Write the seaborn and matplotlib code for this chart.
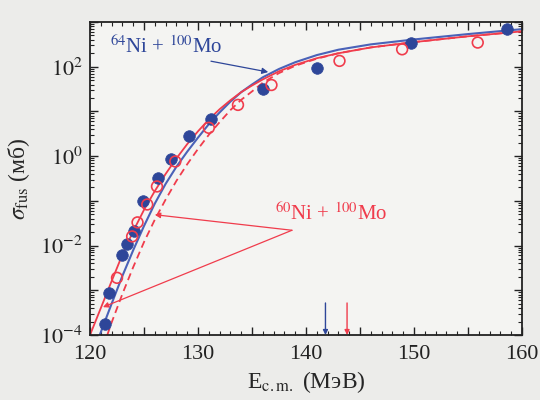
import numpy as np
import pandas as pd
import matplotlib
matplotlib.use('Agg')
import matplotlib.pyplot as plt
import matplotlib.ticker as mticker
import seaborn as sns

# measured points (E in MeV, sigma in mb)
e_ni64 = [121.4, 121.8, 123.0, 123.4, 124.1, 124.9, 126.3, 127.5, 129.2, 131.2, 136.0, 141.0, 149.7, 158.6]
s_ni64 = [1.8e-4, 8.5e-4, 6.3e-3, 1.1e-2, 2.1e-2, 0.10, 0.32, 0.85, 2.75, 6.8, 31, 93, 347, 690]

e_ni60 = [122.5, 123.9, 124.4, 125.3, 126.2, 127.9, 131.0, 133.7, 136.8, 143.1, 148.9, 155.9]
s_ni60 = [1.9e-3, 1.6e-2, 3.3e-2, 8.3e-2, 0.21, 0.76, 4.3, 14, 39, 135, 245, 347]

# calculated curves
e_fit64 = [120.9, 122, 123, 124, 125, 126, 127, 128, 129, 130, 131, 132, 133, 134, 135, 136, 137.5, 139, 141, 143, 146, 150, 155, 160]
s_fit64 = [1.0e-4, 5.0e-4, 2.1e-3, 7.9e-3, 2.75e-2, 8.7e-2, 0.24, 0.58, 1.26, 2.6, 5.2, 9.5, 16.6, 27, 40, 58, 89, 126, 182, 240, 316, 407, 537, 692]

e_fit60 = [120.0, 121, 122, 123, 124, 125, 126, 127, 128, 129, 130, 131, 132, 133, 134, 135, 136, 137.5, 139, 141, 143, 146, 150, 155, 160]
s_fit60 = [1.0e-4, 4.0e-4, 1.6e-3, 6.3e-3, 2.1e-2, 6.3e-2, 0.166, 0.40, 0.89, 1.86, 3.6, 6.6, 11.2, 17.8, 27, 38, 52, 79, 110, 155, 200, 270, 355, 479, 617]

e_fit60b = [121.6, 122, 123, 124, 125, 126, 127, 128, 129, 130, 131, 132, 133, 134, 135, 136, 137.5, 139, 141, 143, 146, 150, 155, 160]
s_fit60b = [1.0e-4, 1.9e-4, 8.3e-4, 3.3e-3, 1.2e-2, 3.8e-2, 0.107, 0.28, 0.66, 1.45, 3.0, 5.75, 10.7, 18.2, 28, 44, 72, 105, 151, 200, 270, 355, 479, 617]

# barrier positions
e_barrier = [141.8, 143.8]

blue = '#2e4699'
red = '#f03c4c'

sns.set_style('ticks')
plt.rcParams['font.family'] = ['Liberation Serif', 'DejaVu Serif']
plt.rcParams['mathtext.fontset'] = 'stix'

fig = plt.figure(figsize=(5.4, 4), dpi=100, facecolor='#ececea')
ax = fig.add_axes([0.1667, 0.1625, 0.8, 0.7825])
ax.set_facecolor('#f4f4f2')

sns.lineplot(x=e_fit64, y=s_fit64, ax=ax, color='#4a62b8', lw=1.5)
sns.lineplot(x=e_fit60, y=s_fit60, ax=ax, color=red, lw=1.3)
sns.lineplot(x=e_fit60b, y=s_fit60b, ax=ax, color=red, lw=1.3)
ax.lines[-1].set_dashes((4, 2.5))

sns.scatterplot(x=e_ni64, y=s_ni64, ax=ax, color=blue, s=70, edgecolor=blue, linewidth=0.5, zorder=5)
sns.scatterplot(x=e_ni60, y=s_ni60, ax=ax, facecolor='none', edgecolor=red, s=60, linewidth=1.2, zorder=5)

ax.set_yscale('log')
ax.set_xlim(120, 160)
ax.set_ylim(1e-4, 1e3)

ax.xaxis.set_major_locator(mticker.MultipleLocator(5))
ax.xaxis.set_minor_locator(mticker.MultipleLocator(1))
ax.xaxis.set_major_formatter(mticker.FuncFormatter(lambda v, p: f'{v:.0f}' if v % 10 == 0 else ''))
ax.yaxis.set_major_locator(mticker.LogLocator(base=10, numticks=20))
ax.yaxis.set_minor_locator(mticker.LogLocator(base=10, subs=np.arange(2, 10), numticks=20))


def ylab(v, p):
    n = int(round(np.log10(v)))
    return f'$10^{{{n}}}$' if n % 2 == 0 else ''


ax.yaxis.set_major_formatter(mticker.FuncFormatter(ylab))
ax.yaxis.set_minor_formatter(mticker.NullFormatter())
ax.tick_params(which='both', direction='in', top=True, right=True, colors='#222222', labelsize=16)
ax.tick_params(which='major', length=6, width=1.0)
ax.tick_params(which='minor', length=3, width=0.8)
ax.tick_params(axis='x', which='major', pad=7)
ax.tick_params(axis='y', which='major', pad=5)
for sp in ax.spines.values():
    sp.set_linewidth(1.3)
    sp.set_color('#222222')

ax.set_xlabel(r'E$_{\rm c.m.}$ (МэВ)', fontsize=17, labelpad=4)
ax.set_ylabel(r'$\sigma_{\rm fus}$ (мб)', fontsize=17, labelpad=6)

# labels with arrows
ax.annotate(r'$^{64}$Ni + $^{100}$Mo', xy=(136.5, 76), xytext=(127.0, 280), color=blue,
            fontsize=15, ha='center', va='center',
            arrowprops=dict(arrowstyle='-|>', color=blue, lw=0.9, mutation_scale=9,
                            shrinkA=0, shrinkB=0, relpos=(0.75, 0.0)))
ax.text(142.3, 0.052, r'$^{60}$Ni + $^{100}$Mo', color=red, fontsize=15, ha='center', va='center')
for xy in [(126.0, 0.049), (121.2, 4.2e-4)]:
    ax.annotate('', xy=xy, xytext=(138.7, 0.022),
                arrowprops=dict(arrowstyle='-|>', color=red, lw=0.9, mutation_scale=8,
                                shrinkA=0, shrinkB=0))

# barrier arrows
for eb, c in zip(e_barrier, [blue, red]):
    ax.annotate('', xy=(eb, 1.0e-4), xytext=(eb, 5.2e-4),
                arrowprops=dict(arrowstyle='-|>', color=c, lw=1.0, mutation_scale=7,
                                shrinkA=0, shrinkB=0))

fig.savefig('out.png', dpi=100, facecolor=fig.get_facecolor())
